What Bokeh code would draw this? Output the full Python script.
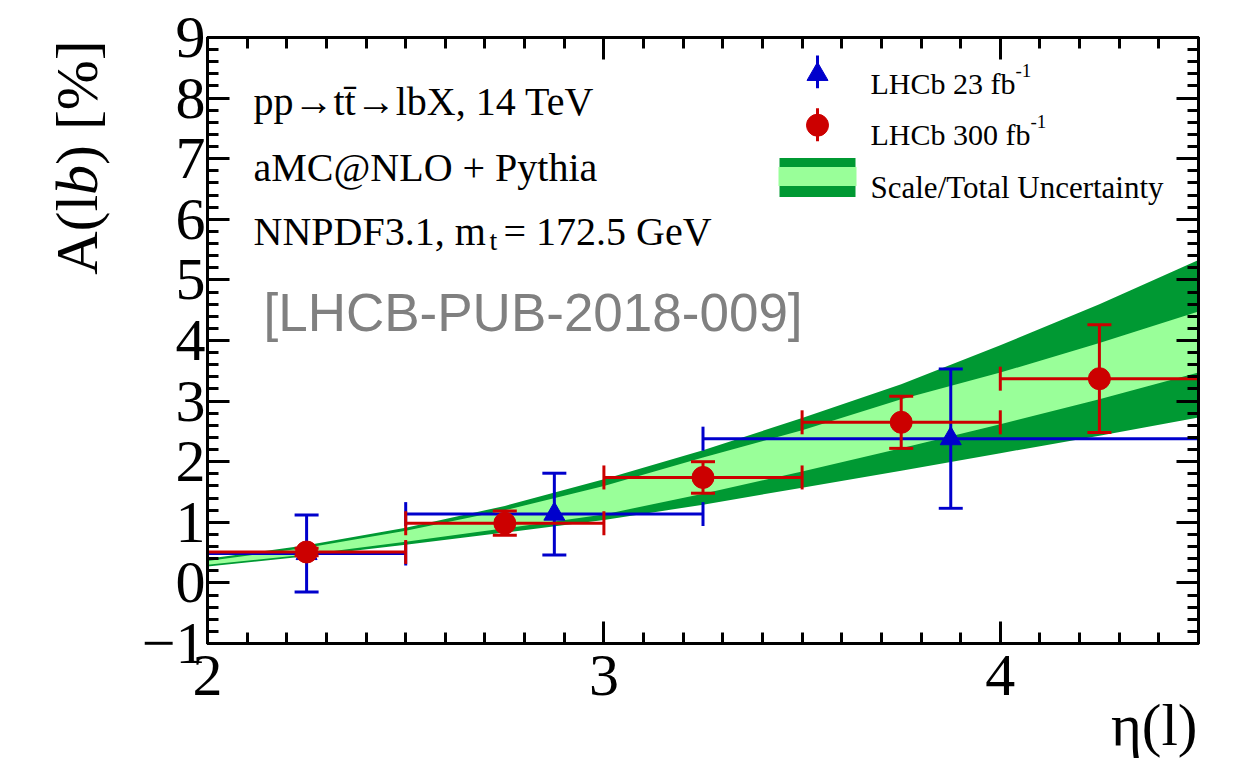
import numpy as np
from math import pi
from bokeh.plotting import figure
from bokeh.models import (ColumnDataSource, Whisker, TeeHead, Label, LinearAxis,
                          FixedTicker, Range1d)
from bokeh.embed import file_html
from bokeh.resources import INLINE

# ---------------- data ----------------
red_x = [2.25, 2.75, 3.25, 3.75, 4.25]
red_xlo = [2.0, 2.5, 3.0, 3.5, 4.0]
red_xhi = [2.5, 3.0, 3.5, 4.0, 4.5]
red_y = [0.51, 0.985, 1.74, 2.65, 3.37]
red_err = [0.06, 0.20, 0.26, 0.43, 0.89]

blue_x = [2.25, 2.875, 3.875]
blue_xlo = [2.0, 2.5, 3.25]
blue_xhi = [2.5, 3.25, 4.5]
blue_y = [0.485, 1.135, 2.38]
blue_err = [0.635, 0.675, 1.15]

band_x = [2.0, 2.25, 2.5, 2.75, 3.0, 3.25, 3.5, 3.75, 4.0, 4.25, 4.5]
total_hi = [0.40, 0.62, 0.91, 1.27, 1.71, 2.19, 2.72, 3.28, 3.92, 4.60, 5.33]
scale_hi = [0.36, 0.58, 0.86, 1.20, 1.60, 2.07, 2.52, 3.03, 3.47, 3.96, 4.48]
scale_lo = [0.30, 0.47, 0.68, 0.90, 1.13, 1.47, 1.84, 2.22, 2.62, 3.03, 3.47]
total_lo = [0.27, 0.44, 0.63, 0.83, 1.04, 1.29, 1.57, 1.85, 2.14, 2.43, 2.73]

x_ticks = [2, 3, 4]
y_ticks = list(range(-1, 10))

# ---------------- layout ----------------
X0, X1, Y0, Y1 = 2.0, 4.5, -1.0, 9.0
FIG_W, FIG_H = 1233, 763
L, R, T, B = 207, 1198, 37, 645

def px2x(px):
    return X0 + (px - L) * (X1 - X0) / (R - L)

def py2y(py):
    return Y1 - (py - T) * (Y1 - Y0) / (B - T)

RED = "#cc0000"
BLUE = "#0000cc"
DARK = "#009933"
LIGHT = "#99ff99"
SERIF = "Liberation Serif"

p = figure(width=FIG_W, height=FIG_H, x_range=Range1d(X0, X1), y_range=Range1d(Y0, Y1),
           output_backend="svg", toolbar_location=None,
           min_border_left=L, min_border_right=FIG_W - R,
           min_border_top=T, min_border_bottom=FIG_H - B)
p.xgrid.visible = False
p.ygrid.visible = False
p.outline_line_color = "black"
p.outline_line_width = 3
p.background_fill_color = "white"
p.border_fill_color = "white"

x_minor = [round(v, 2) for v in np.arange(2.0, 4.501, 0.1)]
y_minor = [round(v, 2) for v in np.arange(-1.0, 9.001, 0.2)]

def style_axis(ax, labels=True):
    ax.axis_line_width = 3
    ax.major_tick_line_width = 3
    ax.minor_tick_line_width = 3
    ax.major_tick_in = 22
    ax.major_tick_out = 0
    ax.minor_tick_in = 11
    ax.minor_tick_out = 0
    if labels:
        ax.major_label_text_font = SERIF
        ax.major_label_text_font_size = "60px"
        ax.major_label_text_color = "black"
    else:
        ax.major_label_text_font_size = "0px"
        ax.major_label_text_color = None
        ax.major_label_standoff = 0

p.xaxis.ticker = FixedTicker(ticks=x_ticks, minor_ticks=x_minor)
p.yaxis.ticker = FixedTicker(ticks=y_ticks, minor_ticks=y_minor)
style_axis(p.xaxis[0])
style_axis(p.yaxis[0])
p.xaxis.major_label_standoff = 12
p.yaxis.major_label_standoff = 2
p.yaxis.major_label_overrides = {-1: "\u22121"}

top_ax = LinearAxis(ticker=FixedTicker(ticks=x_ticks, minor_ticks=x_minor))
right_ax = LinearAxis(ticker=FixedTicker(ticks=y_ticks, minor_ticks=y_minor))
style_axis(top_ax, labels=False)
style_axis(right_ax, labels=False)
p.add_layout(top_ax, "above")
p.add_layout(right_ax, "right")

# ---------------- band ----------------
band_src = ColumnDataSource(dict(x=band_x, thi=total_hi, tlo=total_lo, shi=scale_hi, slo=scale_lo))
r1 = p.varea(x="x", y1="tlo", y2="thi", source=band_src, fill_color=DARK)
r2 = p.varea(x="x", y1="slo", y2="shi", source=band_src, fill_color=LIGHT)
r1.level = "image"
r2.level = "image"

# ---------------- error bars ----------------
blue_src = ColumnDataSource(dict(x=blue_x, y=blue_y, xlo=blue_xlo, xhi=blue_xhi,
                                 ylo=[a - b for a, b in zip(blue_y, blue_err)],
                                 yhi=[a + b for a, b in zip(blue_y, blue_err)]))
red_src = ColumnDataSource(dict(x=red_x, y=red_y, xlo=red_xlo, xhi=red_xhi,
                                ylo=[a - b for a, b in zip(red_y, red_err)],
                                yhi=[a + b for a, b in zip(red_y, red_err)]))

def add_errors(src, color):
    for dim, base, lo, hi in (("width", "y", "xlo", "xhi"), ("height", "x", "ylo", "yhi")):
        w = Whisker(source=src, base=base, lower=lo, upper=hi, dimension=dim,
                    line_color=color, line_width=3,
                    lower_head=TeeHead(size=24, line_color=color, line_width=3),
                    upper_head=TeeHead(size=24, line_color=color, line_width=3))
        w.level = "underlay"
        p.add_layout(w)

add_errors(blue_src, BLUE)
add_errors(red_src, RED)

p.scatter("x", "y", source=blue_src, marker="triangle", size=21,
          fill_color=BLUE, line_color=BLUE)
p.scatter("x", "y", source=red_src, marker="circle", size=22,
          fill_color=RED, line_color=RED)

# ---------------- legend (drawn by hand) ----------------
lx = px2x(817)
p.segment(x0=[lx], y0=[py2y(55)], x1=[lx], y1=[py2y(88)], line_color=BLUE, line_width=3)
p.scatter(x=[lx], y=[py2y(74)], marker="triangle", size=21, fill_color=BLUE, line_color=BLUE)
p.segment(x0=[lx], y0=[py2y(108)], x1=[lx], y1=[py2y(141)], line_color=RED, line_width=3)
p.scatter(x=[lx], y=[py2y(125)], marker="circle", size=22, fill_color=RED, line_color=RED)
p.quad(left=[px2x(779)], right=[px2x(855)], top=[py2y(158)], bottom=[py2y(197)],
       fill_color=DARK, line_color=None)
p.quad(left=[px2x(778)], right=[px2x(856)], top=[py2y(167)], bottom=[py2y(186)],
       fill_color=LIGHT, line_color=None)

def lab(text, px, py, size, font=SERIF, color="black", style="normal", angle=0,
        align="left", place=None):
    lbl = Label(x=px2x(px), y=py2y(py), text=text, text_font=font,
                text_font_size=f"{size}px", text_color=color, text_font_style=style,
                text_baseline="alphabetic", text_align=align, angle=angle)
    if place is None:
        p.add_layout(lbl)
    else:
        p.add_layout(lbl, place)

LS = 30
lab("LHCb 23 fb", 870, 83, LS)
lab("-1", 870 + 4.833 * LS, 70, 19)
lab("LHCb 300 fb", 870, 134, LS)
lab("-1", 870 + 5.333 * LS, 121, 19)
lab("Scale/Total Uncertainty", 870, 187, 31)

# ---------------- annotations ----------------
AS = 40
lab("pp\u2192tt\u0304\u2192lbX, 14 TeV", 253, 101, AS)
lab("aMC@NLO + Pythia", 253, 167, AS)
lab("NNPDF3.1, m", 253, 232, AS)
lab("t", 489, 241, 28)
lab(" = 172.5 GeV", 503, 232, AS)
lab("[LHCB-PUB-2018-009]", 263, 313, 53, font="Liberation Sans", color="#808080")

# ---------------- axis titles (side panels, so they are not clipped) ----------------
TS = 60
y_start = 275
ax_x = 76
lab("A(l", ax_x, y_start, TS, angle=pi / 2, place="left")
lab("b", ax_x, y_start - 1.333 * TS, TS, style="italic", angle=pi / 2, place="above")
lab(") [%]", ax_x, y_start - 1.833 * TS, TS, angle=pi / 2, place="left")

lab("\u03b7(l)", 1197, 727, 59, align="right", place="below")

open("out.html", "w").write(file_html(p, INLINE))
